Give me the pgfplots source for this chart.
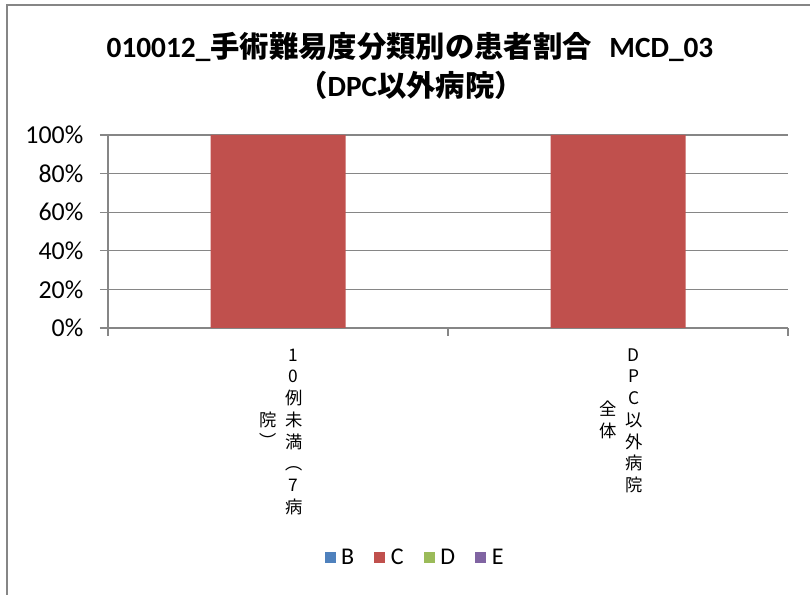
\documentclass[border=0pt]{standalone}
\usepackage{fontspec}
\usepackage{graphicx}
\usepackage{pgfplots}
\pgfplotsset{compat=1.18}
\setmainfont{Carlito}
\newfontfamily\cjk{Noto Sans CJK JP}
\definecolor{gridgray}{HTML}{868686}
\definecolor{serB}{HTML}{4F81BD}
\definecolor{serC}{HTML}{C0504D}
\definecolor{serD}{HTML}{9BBB59}
\definecolor{serE}{HTML}{8064A2}
% one column of upright characters, as Excel stacks vertical labels
\newcommand\vcol[1]{\begin{tabular}{@{}c@{}}#1\end{tabular}}
\newcommand\vparen[1]{\rotatebox[origin=c]{-90}{#1}}

\begin{document}
\begin{tikzpicture}[x=0.75pt,y=0.75pt]
\useasboundingbox (0,0) rectangle (810,595);
\draw[gridgray,line width=1.5pt] (7,0) -- (7,590) -- (810,590);
\node[font=\bfseries\fontsize{22}{26}\selectfont] at (410,548)
  {010012\_{\cjk 手術難易度分類別の患者割合}\hspace{0.6em}MCD\_03};
\node[font=\bfseries\fontsize{22}{26}\selectfont] at (411,510)
  {{\cjk （}DPC{\cjk 以外病院）}};

\begin{axis}[
    at={(81pt,200.25pt)}, anchor=south west,
    scale only axis,
    width=510pt, height=144.75pt,
    xmin=-0.5, xmax=1.5,
    ymin=0, ymax=100,
    ybar stacked,
    bar width=101.25pt,
    axis x line*=bottom,
    axis y line*=left,
    axis line style={gridgray, line width=1pt, -},
    tick style={gridgray, line width=1pt},
    tick align=outside,
    major tick length=6pt,
    ymajorgrids=true,
    grid style={gridgray, line width=1pt},
    /pgf/number format/assume math mode=true,
    ytick={0,20,40,60,80,100},
    yticklabel={\pgfmathprintnumber{\tick}\%},
    yticklabel style={font=\fontsize{19.4}{22}\selectfont, text=black,
      xshift=-9pt},
    xtick={-0.5,0.5,1.5},
    xticklabels={},
    extra x ticks={0,1},
    extra x tick labels={
      {\vcol{院\\\vparen{）}}\hspace{6.5pt}\vcol{1\\0\\例\\未\\満\\\vparen{（}\\7\\病}},
      {\vcol{全\\体}\hspace{6.5pt}\vcol{D\\P\\C\\以\\外\\病\\院}}},
    extra x tick style={
      major tick length=0pt,
      xticklabel style={anchor=north, yshift=-10pt, xshift=2pt,
        font=\cjk\fontsize{13}{16.3}\selectfont, text=black}},
    legend style={at={(0.452,-1.19)}, anchor=center, draw=none,
      font=\fontsize{18}{20}\selectfont, legend columns=-1,
      /tikz/every even column/.append style={column sep=13pt}},
    legend image code/.code={
      \fill[#1] (0pt,-4.1pt) rectangle (8.25pt,4.1pt);
      \path (10.5pt,0pt);},
]
\addplot[fill=serB, draw=none] coordinates {(0,0) (1,0)};
\addplot[fill=serC, draw=none] coordinates {(0,100) (1,100)};
\addplot[fill=serD, draw=none] coordinates {(0,0) (1,0)};
\addplot[fill=serE, draw=none] coordinates {(0,0) (1,0)};
\legend{B, C, D, E}
\end{axis}
\end{tikzpicture}
\end{document}
